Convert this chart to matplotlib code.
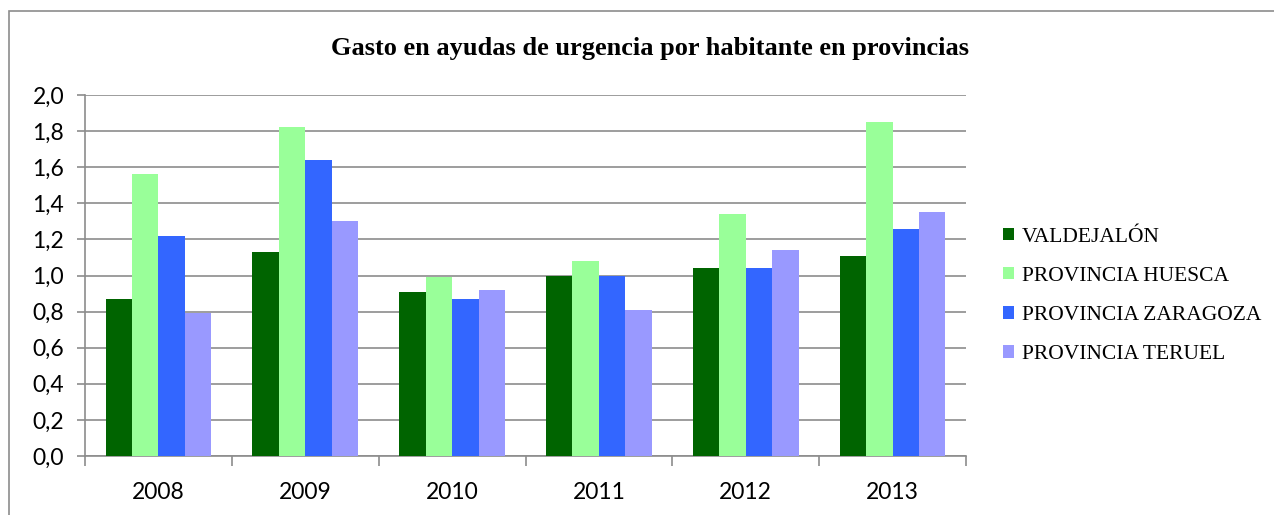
import matplotlib
matplotlib.use("Agg")
import matplotlib.pyplot as plt
from matplotlib.patches import Rectangle
from matplotlib.ticker import FixedLocator, FuncFormatter
import numpy as np

years = ["2008", "2009", "2010", "2011", "2012", "2013"]
series_names = ["VALDEJALÓN", "PROVINCIA HUESCA", "PROVINCIA ZARAGOZA", "PROVINCIA TERUEL"]
valdejalon = [0.87, 1.13, 0.91, 1.00, 1.04, 1.11]
huesca = [1.56, 1.82, 0.99, 1.08, 1.34, 1.85]
zaragoza = [1.22, 1.64, 0.87, 1.00, 1.04, 1.26]
teruel = [0.79, 1.30, 0.92, 0.81, 1.14, 1.35]
colors = ["#006400", "#99FF99", "#3366FF", "#9999FF"]

fig = plt.figure(figsize=(12.74, 5.15), dpi=100)
ax = fig.add_axes([85 / 1274, 1 - 456 / 515, 881 / 1274, 361 / 515])

# outer chart frame (left and top edges visible)
fig.patches.append(Rectangle((9 / 1274, -0.1), 1.2, 1 - 11 / 515 + 0.1,
                             transform=fig.transFigure, fill=False,
                             edgecolor="#8c8c8c", linewidth=1.2))

x = np.arange(len(years))
width = 0.18
for i, (vals, name, col) in enumerate(zip([valdejalon, huesca, zaragoza, teruel], series_names, colors)):
    ax.bar(x + (i - 1.5) * width, vals, width, color=col, label=name, zorder=3)

ax.set_xlim(-0.5, len(years) - 0.5)
ax.set_ylim(0, 2.0)
ax.set_yticks(np.arange(0, 2.01, 0.2))
ax.yaxis.set_major_formatter(FuncFormatter(lambda v, _: f"{v:.1f}".replace(".", ",")))
ax.grid(axis="y", color="#8c8c8c", linewidth=1.2, zorder=0)

ax.set_xticks(x)
ax.set_xticklabels(years)
ax.xaxis.set_minor_locator(FixedLocator(np.arange(-0.5, len(years), 1.0)))
ax.tick_params(axis="x", which="major", length=0, pad=19)
ax.tick_params(axis="x", which="minor", length=7, width=1.2, color="#8c8c8c")
ax.tick_params(axis="y", length=6, width=1.2, color="#8c8c8c", pad=9)
for lab in ax.get_xticklabels() + ax.get_yticklabels():
    lab.set_fontfamily("Lato")
    lab.set_fontsize(16.5)

for side in ["top", "right"]:
    ax.spines[side].set_visible(False)
for side in ["left", "bottom"]:
    ax.spines[side].set_color("#8c8c8c")
    ax.spines[side].set_linewidth(1.2)

fig.text(650 / 1274, 1 - 48 / 515, "Gasto en ayudas de urgencia por habitante en provincias",
         ha="center", va="center", fontsize=19, fontweight="bold",
         fontfamily="Liberation Serif")

ax.legend(loc="center left", bbox_to_anchor=(984 / 1274, 1 - 296 / 515),
          bbox_transform=fig.transFigure, frameon=False,
          prop={"family": "Liberation Serif", "size": 15.5},
          handlelength=0.5, handleheight=0.5, handletextpad=0.35, labelspacing=0.93)

fig.savefig("out.png", dpi=100)
